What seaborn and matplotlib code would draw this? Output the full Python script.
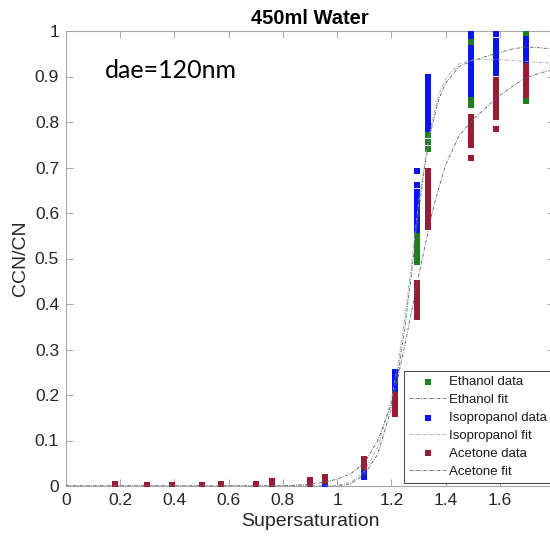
import matplotlib
matplotlib.use("Agg")
import matplotlib.pyplot as plt
import seaborn as sns
import pandas as pd
from matplotlib.ticker import FuncFormatter, FixedLocator

# ---------------- data ----------------
ethanol_ss = [0.76,
              1.295, 1.295, 1.295, 1.295, 1.295, 1.295,
              1.335, 1.335, 1.335,
              1.495, 1.495, 1.495,
              1.697, 1.697]
ethanol_ratio = [0.010,
                 0.493, 0.505, 0.517, 0.529, 0.541, 0.549,
                 0.741, 0.756, 0.771,
                 0.838, 0.848, 0.975,
                 0.847, 0.995]

iso_ss = [0.955,
          1.10, 1.10,
          1.214, 1.214, 1.214, 1.214,
          1.295, 1.295, 1.295, 1.295, 1.295, 1.295, 1.295, 1.295, 1.295, 1.295,
          1.335, 1.335, 1.335, 1.335, 1.335, 1.335, 1.335, 1.335, 1.335, 1.335, 1.335,
          1.495, 1.495, 1.495, 1.495, 1.495, 1.495, 1.495, 1.495, 1.495, 1.495, 1.495, 1.495,
          1.587, 1.587, 1.587, 1.587, 1.587, 1.587, 1.587, 1.587,
          1.697, 1.697, 1.697, 1.697, 1.697, 1.697]
iso_ratio = [0.004,
             0.020, 0.029,
             0.214, 0.226, 0.238, 0.250,
             0.563, 0.575, 0.587, 0.599, 0.611, 0.623, 0.635, 0.647, 0.662, 0.692,
             0.785, 0.797, 0.809, 0.821, 0.833, 0.845, 0.857, 0.869, 0.881, 0.893, 0.898,
             0.860, 0.872, 0.884, 0.896, 0.908, 0.920, 0.932, 0.944, 0.956, 0.968, 0.980, 0.993,
             0.907, 0.919, 0.931, 0.943, 0.955, 0.967, 0.979, 0.993,
             0.937, 0.949, 0.961, 0.973, 0.985, 0.993]

acetone_ss = [0.18, 0.30, 0.39, 0.50, 0.57, 0.70,
              0.76, 0.76, 0.90, 0.90, 0.955, 0.955,
              1.10, 1.10, 1.10,
              1.214, 1.214, 1.214, 1.214, 1.214,
              1.295, 1.295, 1.295, 1.295, 1.295, 1.295, 1.295,
              1.335, 1.335, 1.335, 1.335, 1.335, 1.335, 1.335, 1.335, 1.335, 1.335, 1.335, 1.335,
              1.495, 1.495, 1.495, 1.495, 1.495, 1.495, 1.495,
              1.587, 1.587, 1.587, 1.587, 1.587, 1.587, 1.587, 1.587, 1.587,
              1.697, 1.697, 1.697, 1.697, 1.697, 1.697, 1.697]
acetone_ratio = [0.004, 0.003, 0.003, 0.003, 0.004, 0.004,
                 0.003, 0.010, 0.004, 0.013, 0.011, 0.020,
                 0.042, 0.052, 0.059,
                 0.159, 0.171, 0.183, 0.195, 0.200,
                 0.372, 0.384, 0.396, 0.408, 0.420, 0.432, 0.446,
                 0.570, 0.582, 0.594, 0.606, 0.618, 0.630, 0.642, 0.654, 0.666, 0.678, 0.690, 0.693,
                 0.720, 0.750, 0.762, 0.774, 0.786, 0.798, 0.812,
                 0.785, 0.812, 0.824, 0.836, 0.848, 0.860, 0.872, 0.884, 0.893,
                 0.860, 0.872, 0.884, 0.896, 0.908, 0.918, 0.923]

fit_ss = [0.0, 0.8, 0.9, 0.95, 1.0, 1.05, 1.1, 1.15, 1.2, 1.225, 1.25, 1.275,
          1.3, 1.325, 1.35, 1.375, 1.4, 1.45, 1.5, 1.55, 1.6, 1.65, 1.7, 1.75, 1.8]
ethanol_fit = [0.0, 0.0, 0.0, 0.0, 0.0, 0.005, 0.025, 0.07, 0.17, 0.25, 0.35, 0.47,
               0.60, 0.71, 0.79, 0.85, 0.885, 0.922, 0.935, 0.944, 0.953, 0.961, 0.965, 0.963, 0.960]
iso_fit = [0.0, 0.0, 0.0, 0.0, 0.001, 0.008, 0.032, 0.085, 0.19, 0.27, 0.37, 0.49,
           0.62, 0.72, 0.80, 0.86, 0.895, 0.928, 0.936, 0.938, 0.937, 0.935, 0.933, 0.931, 0.929]
acetone_fit = [0.0, 0.0, 0.004, 0.008, 0.015, 0.027, 0.05, 0.10, 0.18, 0.24, 0.31, 0.385,
               0.46, 0.53, 0.60, 0.655, 0.705, 0.77, 0.805, 0.832, 0.858, 0.88, 0.898, 0.908, 0.915]

x_ticks = [0, 0.2, 0.4, 0.6, 0.8, 1.0, 1.2, 1.4, 1.6]
y_ticks = [0, 0.1, 0.2, 0.3, 0.4, 0.5, 0.6, 0.7, 0.8, 0.9, 1.0]

# ---------------- styling ----------------
sns.set_theme(style="white")
plt.rcParams['font.family'] = ['Liberation Sans', 'DejaVu Sans']

c_eth = '#1f7f1f'
c_iso = '#0a14f0'
c_ace = '#9a1c34'
c_eth_fit = '#4a6258'
c_iso_fit = '#98a6b4'
c_ace_fit = '#5a5a72'
fit_dash = (0, (4, 1.6, 1, 1.6))

fig = plt.figure(figsize=(5.5, 5.44), dpi=100)
ax = fig.add_axes([66 / 550, 58 / 544, 488 / 550, 455 / 544])

df_eth = pd.DataFrame({'ss': ethanol_ss, 'r': ethanol_ratio})
df_iso = pd.DataFrame({'ss': iso_ss, 'r': iso_ratio})
df_ace = pd.DataFrame({'ss': acetone_ss, 'r': acetone_ratio})
df_fit = pd.DataFrame({'ss': fit_ss, 'eth': ethanol_fit, 'iso': iso_fit, 'ace': acetone_fit})

ms = 21
sns.scatterplot(data=df_iso, x='ss', y='r', ax=ax, marker='s', s=ms, color=c_iso,
                linewidth=0, label='Isopropanol data', zorder=3)
sns.scatterplot(data=df_eth, x='ss', y='r', ax=ax, marker='s', s=ms, color=c_eth,
                linewidth=0, label='Ethanol data', zorder=3.5)
sns.scatterplot(data=df_ace, x='ss', y='r', ax=ax, marker='s', s=ms, color=c_ace,
                linewidth=0, label='Acetone data', zorder=4)

sns.lineplot(data=df_fit, x='ss', y='eth', ax=ax, color=c_eth_fit, lw=0.6,
             dashes=False, label='Ethanol fit', zorder=5)
sns.lineplot(data=df_fit, x='ss', y='iso', ax=ax, color=c_iso_fit, lw=0.6,
             dashes=False, label='Isopropanol fit', zorder=5)
sns.lineplot(data=df_fit, x='ss', y='ace', ax=ax, color=c_ace_fit, lw=0.6,
             dashes=False, label='Acetone fit', zorder=5)
for ln in ax.get_lines():
    ln.set_linestyle(fit_dash)

ax.set_xlim(0, 1.8)
ax.set_ylim(0, 1)
ax.xaxis.set_major_locator(FixedLocator(x_ticks))
ax.yaxis.set_major_locator(FixedLocator(y_ticks))
fmt = FuncFormatter(lambda v, p: ('%g' % round(v, 2)))
ax.xaxis.set_major_formatter(fmt)
ax.yaxis.set_major_formatter(fmt)

spine_col = '#a6a6a6'
for sp in ax.spines.values():
    sp.set_color(spine_col)
    sp.set_linewidth(0.8)
ax.tick_params(direction='in', length=5, width=0.7, color=spine_col,
               top=True, right=True, bottom=True, left=True,
               labelsize=12.5, labelcolor='#262626', pad=5)

ax.set_xlabel('Supersaturation', fontsize=14, color='#262626', labelpad=4)
ax.set_ylabel('CCN/CN', fontsize=14, color='#262626', labelpad=4)
ax.set_title('450ml Water', fontsize=14.5, fontweight='bold', color='black', pad=5)

ax.text(0.144, 0.913, 'dae=120nm', fontsize=18, family=['Lato', 'DejaVu Sans'],
        color='black', va='center', ha='left')

handles, labels = ax.get_legend_handles_labels()
hmap = dict(zip(labels, handles))
order = ['Ethanol data', 'Ethanol fit', 'Isopropanol data', 'Isopropanol fit',
         'Acetone data', 'Acetone fit']
leg = ax.legend([hmap[k] for k in order], order, loc='lower left',
                bbox_to_anchor=(404 / 550, 61 / 544), bbox_transform=fig.transFigure,
                borderaxespad=0, fontsize=9.5, frameon=True, fancybox=False,
                framealpha=1, edgecolor='#404040', labelspacing=0.43,
                handlelength=2.8, handletextpad=0.2, borderpad=0.4, markerscale=0.9)
leg.get_frame().set_linewidth(0.7)
for t in leg.get_texts():
    t.set_color('#1a1a1a')

fig.savefig('out.png', dpi=100, facecolor='white')
